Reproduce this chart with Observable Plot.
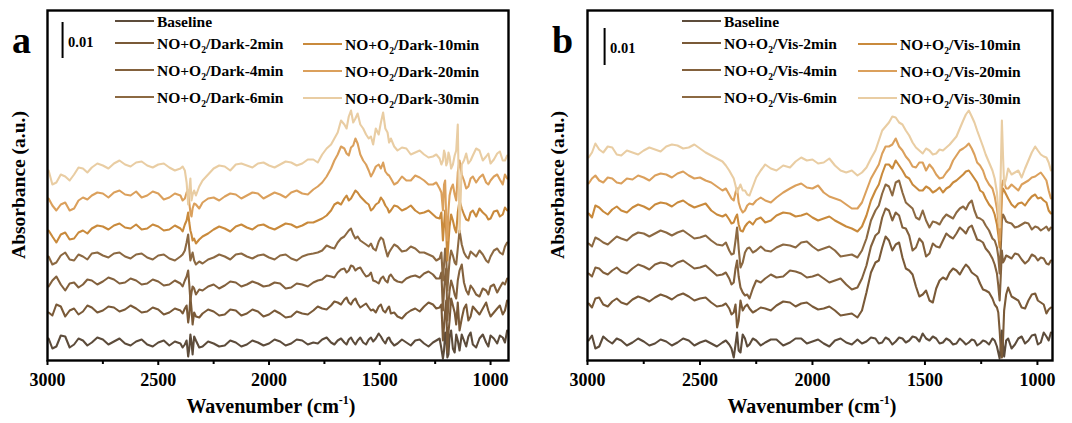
<!DOCTYPE html>
<html><head><meta charset="utf-8">
<script src="https://cdn.jsdelivr.net/npm/d3@7"></script>
<script src="https://cdn.jsdelivr.net/npm/@observablehq/plot@0.6"></script>
<style>
html,body{margin:0;padding:0;background:#fff;}
#wrap{position:relative;width:1072px;height:423px;overflow:hidden;}
#pa,#pb,#ov{position:absolute;top:0;}
#pa{left:0}#pb{left:540px}#ov{left:0;pointer-events:none}
</style></head><body>
<div id="wrap"><div id="pa"></div><div id="pb"></div><svg id="ov" width="1072" height="423"></svg></div>
<script>
// ---------- data (absorbance in arbitrary units; 36 units = 0.01) ----------
const majorTicks = [3000, 2500, 2000, 1500, 1000];
const minorTicks = [2750, 2250, 1750, 1250];
const colors = ["#5d4c3b", "#7a5a38", "#83613d", "#8c6942", "#c98a3c", "#dba05c", "#e9cda3"];
const namesA = ["Baseline","NO+O2/Dark-2min","NO+O2/Dark-4min","NO+O2/Dark-6min","NO+O2/Dark-10min","NO+O2/Dark-20min","NO+O2/Dark-30min"];
const namesB = ["Baseline","NO+O2/Vis-2min","NO+O2/Vis-4min","NO+O2/Vis-6min","NO+O2/Vis-10min","NO+O2/Vis-20min","NO+O2/Vis-30min"];

// panel a: main sampling grid and in-between sampling grid
const wnA = [2995,2960,2920,2880,2840,2800, 2750,2700,2650,2600,2550,2500, 2450,2400,2380,2365,2355,2345,
  2330,2300,2250,2200,2150,2100, 2050,2000,1950,1900,1850,1800, 1760,1720,1690,1660,1640,1620,
  1600,1575,1550,1530,1505,1485, 1465,1450,1420,1380,1340,1300, 1260,1230,1215,1205,1195,1185,
  1170,1155,1140,1120,1100,1080, 1050,1020,1000,970,945,925];
const wnAm = [2978,2940,2900,2860,2820,2775, 2725,2675,2625,2575,2525,2475, 2425,2390,2372,2360,2350,2338,
  2315,2275,2225,2175,2125,2075, 2025,1975,1925,1875,1825,1780, 1740,1705,1675,1650,1630,1610,
  1588,1562,1540,1518,1495,1475, 1458,1435,1400,1360,1320,1280, 1245,1222,1210,1200,1190,1178,
  1162,1148,1130,1110,1090,1065, 1035,1010,985,958,935];
const baseA = [22,14,24,16,20,18, 21,19,17,19,16,18, 15,17,16,4,26,6, 20,14,17,15,18,16, 18,17,19,17,20,18,
  21,18,20,18,21,19, 20,18,21,19,27,20, 22,19,17,18,20,17, 18,22,2,28,3,24, 12,26,10,20,24,16, 22,18,25,17,23,30];
const baseAm = [12,25,13,22,15,23, 16,22,15,21,14,20, 19,13,20,12,18,24, 13,19,14,20,14,20, 15,21,15,21,16,17,
  23,16,22,16,23,16, 23,16,23,22,24,17, 23,15,21,15,21,14, 20,12,10,22,6,30, 8,20,26,14,28,13, 26,14,22,25,18];
const dark2 = [48,56,44,52,49,53, 50,53,51,52,49,51, 48,50,52,38,64,36, 44,47,49,46,50,47, 49,46,47,44,47,50,
  52,55,58,61,58,60, 57,55,53,51,54,50, 52,47,44,47,52,54, 56,53,20,50,8,40, 55,36,30,52,40,54, 46,58,44,52,46,60];
const dark2m = [45,54,50,46,55,48, 54,49,55,48,53,46, 52,47,55,46,52,48, 43,51,45,51,45,51, 44,50,43,49,46,54,
  51,59,56,63,56,62, 53,57,50,48,56,48, 54,48,42,50,49,58, 52,56,34,60,28,62, 48,58,42,56,44,50, 52,50,48,55,50];
const dark4 = [74,84,70,78,76,80, 79,81,78,80,77,79, 76,77,80,90,60,74, 66,70,76,75,78,76, 77,75,77,73,76,78,
  81,84,88,92,90,94, 92,88,85,80,77,84, 78,86,79,82,85,87, 86,82,50,85,40,70, 74,62,90,78,66,72, 64,70,74,68,78,82];
const dark4m = [80,76,77,73,81,76, 83,77,82,76,81,75, 80,74,84,76,68,72, 71,74,72,79,74,79, 74,78,72,77,74,80,
  85,83,91,88,95,90, 93,84,88,79,82,80, 84,81,78,84,83,89, 82,88,70,92,56,80, 66,80,96,70,75,66, 72,66,76,73,76];
const dark6 = [104,98,108,100,104,107, 105,107,104,106,103,105, 102,104,110,126,100,108, 96,97,103,104,106,104,
  105,103,105,102,104,107, 110,113,118,124,130,126, 124,118,114,112,119,121, 104,111,114,110,112,108,
  104,102,80,112,70,100, 105,96,130,108,102,107, 110,100,104,112,106,118];
const dark6m = [96,105,101,106,101,108, 103,108,102,107,101,106, 100,106,118,112,104,100, 99,101,106,101,107,102,
  106,101,106,100,106,108, 115,112,122,127,132,122, 120,116,117,110,123,112, 108,116,109,114,108,106,
  100,108,96,104,86,110, 98,112,116,104,109,104, 106,98,110,108,114];
const dark10 = [130,118,128,122,130,132, 134,135,133,136,132,134, 131,132,136,148,130,120, 117,124,131,132,134,133,
  135,133,134,136,135,138, 142,150,158,162,160,166, 168,161,156,152,158,160, 152,150,154,152,150,148,
  146,142,120,150,100,134, 140,128,160,146,140,150, 152,145,142,150,146,150];
const dark10m = [124,126,121,128,127,135, 131,137,132,131,136,130, 135,129,140,138,126,122, 121,127,134,129,136,131,
  136,131,137,133,138,140, 145,156,156,165,162,170, 164,158,150,156,163,155, 148,155,150,155,147,150,
  143,148,136,128,118,146, 132,148,152,141,148,144, 148,141,149,144,153];
const dark20 = [162,150,158,152,163,165, 167,168,166,169,165,167, 163,165,162,170,148,152, 156,158,163,164,166,165,
  167,165,166,168,167,171, 178,192,206,212,205,215, 217,200,190,188,196,198, 186,182,178,180,185,180,
  176,172,150,180,120,165, 176,160,200,180,174,184, 183,178,180,186,176,182];
const dark20m = [155,156,150,160,161,168, 163,170,165,163,169,161, 167,160,168,158,144,157, 152,162,160,167,162,168,
  162,168,163,170,166,174, 184,200,214,207,213,222, 206,196,184,194,192,189, 185,176,184,180,183,176,
  178,168,176,140,150,172, 166,188,186,172,182,178, 186,176,184,181,186];
const dark30 = [190,178,184,186,192,193, 195,197,196,198,195,196, 193,192,190,156,182,166, 165,180,192,194,196,195,
  197,195,196,198,197,201, 206,216,228,236,244,238, 247,232,222,216,226,248, 228,222,210,212,208,206,
  204,202,200,206,198,204, 196,210,128,200,197,205, 210,204,197,207,200,205];
const dark30m = [176,186,180,193,188,197, 192,200,194,199,193,197, 190,194,178,170,160,170, 174,186,195,190,197,193,
  198,193,199,195,201,198, 212,222,240,232,250,242, 236,226,224,232,238,232, 218,214,213,206,210,203,
  206,196,210,195,208,192, 205,236,196,207,200,212, 200,207,201,209,200];

// panel b
const wnB = [2995,2965,2930,2890,2850,2800, 2750,2700,2650,2600,2550,2500, 2450,2400,2370,2350,2335,2320,
  2300,2280,2250,2210,2160,2100, 2050,2000,1950,1900,1850,1800, 1760,1720,1690,1660,1630,1600,
  1570,1540,1510,1480,1450,1420, 1390,1360,1330,1305,1280,1255, 1230,1200,1180,1168,1158,1148,
  1130,1100,1070,1040,1010,985, 960,940];
const wnBm = [2980,2948,2910,2870,2825,2775, 2725,2675,2625,2575,2525,2475, 2425,2385,2360,2342,2328,2310,
  2290,2265,2230,2185,2130,2075, 2025,1975,1925,1875,1825,1780, 1740,1705,1675,1645,1615,1585,
  1555,1525,1495,1465,1435,1405, 1375,1345,1318,1292,1268,1242, 1215,1190,1174,1163,1153,1139,
  1115,1085,1055,1025,998,972, 950];
const baseB = [20,12,24,17,20,18, 19,17,19,18,20,18, 17,18,16,3,28,8, 22,16,20,18,21,18, 22,19,17,20,18,21,
  19,22,18,21,19,22, 20,23,27,20,22,18, 20,17,19,18,20,17, 19,22,14,2,30,4, 22,16,24,20,26,18, 24,28];
const baseBm = [25,14,20,22,15,22, 15,21,15,22,15,20, 14,20,12,16,10,26, 14,22,15,21,15,22, 17,21,14,22,16,17,
  23,17,23,16,23,18, 24,19,22,24,17,22, 16,22,16,21,15,20, 16,20,8,14,16,20, 12,22,17,25,16,28, 20];
const vis2 = [57,62,56,59,58,61, 62,63,64,65,64,62, 58,55,52,48,33,60, 54,52,50,52,55,58, 57,54,52,50,46,43,
  68,98,113,120,116,103, 90,74,66,60,72,83, 88,90,92,93,86,77, 70,62,53,30,3,50, 73,62,53,60,67,58, 47,53];
const vis2m = [53,63,54,62,56,64, 59,66,61,67,60,63, 54,57,46,56,40,50, 56,48,53,50,59,54, 58,51,54,45,47,50,
  88,100,124,110,118,92, 86,64,70,58,80,81, 92,86,96,88,84,71, 68,56,48,12,20,66, 64,60,52,66,60,56, 51];
const vis4 = [87,93,88,90,89,92, 94,96,97,98,96,93, 90,86,82,78,100,73, 65,62,80,82,83,90, 87,84,82,80,76,73,
  95,125,143,150,148,133, 125,113,118,107,114,120, 124,127,130,133,128,120, 112,102,87,60,110,100,
  104,107,101,100,104,103, 97,100];
const vis4m = [84,92,86,93,87,96, 91,98,94,100,92,95, 85,88,76,92,84,68, 66,72,78,86,84,89, 83,86,78,82,71,82,
  114,128,152,140,145,132, 110,122,104,117,113,127, 122,133,127,135,121,118, 108,96,75,84,98,105,
  102,106,97,106,100,102, 96];
const vis6 = [117,123,118,120,122,125, 127,127,128,128,126,123, 120,115,110,107,133,93, 108,113,110,110,113,115,
  118,114,112,110,105,103, 122,150,167,174,178,168, 155,143,150,133,138,142, 144,148,154,157,150,142,
  135,122,113,87,140,144, 138,133,136,137,134,130, 134,133];
const vis6m = [114,121,116,124,120,128, 124,130,125,130,122,125, 116,118,106,120,112,98, 112,108,114,109,116,113,
  119,110,114,104,106,110, 140,155,176,165,180,158, 152,141,140,139,136,146, 142,152,151,160,143,140,
  130,120,104,112,146,139, 137,134,138,131,133,132, 130];
const vis10 = [147,155,149,151,150,153, 154,156,157,158,156,155, 150,144,141,138,146,130, 134,139,141,138,145,147,
  145,143,142,140,134,129, 145,170,187,196,200,190, 182,173,170,172,170,168, 174,180,186,190,182,170,
  162,152,136,113,165,170, 162,153,158,160,166,163, 158,147];
const vis10m = [143,153,146,154,148,156, 151,158,154,160,153,157, 146,146,137,143,136,129, 137,136,143,140,148,144,
  147,140,144,137,132,134, 160,176,196,192,195,184, 176,170,174,168,173,172, 178,183,189,186,178,168,
  156,146,126,132,172,166, 156,157,155,164,162,160, 150];
const vis20 = [177,185,178,182,177,181, 183,185,186,187,185,183, 178,170,166,160,172,152, 150,157,160,160,163,172,
  177,172,168,162,156,152, 170,190,207,214,222,210, 200,193,198,196,186,183, 192,205,212,217,206,195,
  182,172,152,120,175,178, 172,173,176,180,184,188, 180,162];
const vis20m = [182,180,183,178,182,185, 180,187,183,189,182,180, 174,172,162,168,158,148, 155,156,163,158,168,175,
  173,175,164,160,152,158, 182,196,214,216,214,204, 194,198,190,192,182,188, 200,210,214,212,198,190,
  176,164,140,146,180,172, 176,170,178,183,186,184, 170];
const vis30 = [203,217,208,213,205,208, 210,211,214,215,213,212, 205,199,190,182,168,176, 170,165,183,196,190,193,
  203,201,198,195,188,185, 193,210,230,238,243,236, 225,213,207,210,207,210, 216,224,240,250,238,222,
  206,190,168,133,240,175, 192,188,183,200,214,206, 203,190];
const vis30m = [208,211,214,206,210,206, 213,209,216,212,216,208, 202,195,186,175,172,170, 166,174,190,192,195,199,
  200,197,202,190,190,188, 202,220,234,244,238,230, 218,210,212,206,211,213, 220,232,246,244,230,214,
  198,182,150,190,205,182, 186,190,192,208,210,204, 198];

const seriesA = [[baseA, baseAm], [dark2, dark2m], [dark4, dark4m], [dark6, dark6m], [dark10, dark10m], [dark20, dark20m], [dark30, dark30m]];
const seriesB = [[baseB, baseBm], [vis2, vis2m], [vis4, vis4m], [vis6, vis6m], [vis10, vis10m], [vis20, vis20m], [vis30, vis30m]];
const scaleBarA = [{wn: 2932, lo: 302, hi: 338}];
const scaleBarB = [{wn: 2924, lo: 295, hi: 332}];

// ---------- drawing ----------
const FONT = "'Liberation Serif','Times New Roman',serif";
function panel(wn, wnm, series, xEnd, width, mr, bar) {
  const data = series.flatMap(([vals, mids], k) => {
    const pts = wn.map((w, i) => ({wn: w, a: vals[i]})).concat(wnm.map((w, i) => ({wn: w, a: mids[i]})));
    pts.sort((p, q) => q.wn - p.wn);
    return pts.map(p => ({...p, k, c: colors[k]}));
  });
  return Plot.plot({
    width, height: 423, marginLeft: 47, marginRight: mr, marginTop: 10, marginBottom: 63,
    x: {domain: [3000, xEnd]},
    y: {domain: [0, 350], axis: null},
    style: {fontFamily: FONT, fontWeight: "bold", background: "transparent", color: "#000"},
    marks: [
      Plot.line(data, {x: "wn", y: "a", z: "k", stroke: "c", strokeWidth: 2.1, strokeLinejoin: "round"}),
      Plot.axisX({ticks: majorTicks, tickFormat: d => String(d), tickSize: 5, tickPadding: 8, fontSize: 18, fontWeight: "bold", label: null, strokeWidth: 2}),
      Plot.axisX({ticks: minorTicks, tickSize: 4, tickFormat: () => "", label: null, strokeWidth: 2}),
      Plot.frame({strokeWidth: 2.4, stroke: "#000"}),
      Plot.ruleX(bar, {x: "wn", y1: "lo", y2: "hi", strokeWidth: 2, stroke: "#000"})
    ]
  });
}
document.getElementById("pa").append(panel(wnA, wnAm, seriesA, 919, 540, 32, scaleBarA));
document.getElementById("pb").append(panel(wnB, wnBm, seriesB, 933, 532, 20, scaleBarB));

// ---------- overlay text & legends ----------
const ov = d3.select("#ov").attr("font-family", FONT).attr("font-weight", "bold").attr("fill", "#000");
function labelWithSub(sel, name, size) {
  const parts = name.split("O2");
  sel.append("tspan").text(parts[0] + "O");
  sel.append("tspan").attr("font-size", size * 0.62).attr("dy", 4).text("2");
  sel.append("tspan").attr("dy", -4).text(parts[1]);
}
function overlay(o) {
  ov.append("text").attr("x", o.letterX).attr("y", 53).attr("font-size", 38).text(o.letter);
  ov.append("text").attr("transform", `translate(${o.ylabX},185) rotate(-90)`).attr("text-anchor", "middle")
    .attr("font-size", 19.5).text("Absorbance (a.u.)");
  const xl = ov.append("text").attr("x", o.xlabX).attr("y", 413).attr("text-anchor", "middle").attr("font-size", 20);
  xl.append("tspan").text("Wavenumber (cm");
  xl.append("tspan").attr("font-size", 12).attr("dy", -9).text("-1");
  xl.append("tspan").attr("dy", 9).text(")");
  ov.append("text").attr("x", o.barLabX).attr("y", o.barLabY).attr("font-size", 14.5).text("0.01");
  const rows = [21, 43, 70, 97];
  const slots = [[0,0],[0,1],[0,2],[0,3],[1,1],[1,2],[1,3]];
  o.names.forEach((name, k) => {
    const [col, row] = slots[k];
    const lx = o.cols[col], y = rows[row] + (col ? 1 : 0);
    ov.append("line").attr("x1", lx).attr("x2", lx + 39).attr("y1", y).attr("y2", y)
      .attr("stroke", colors[k]).attr("stroke-width", 2);
    const t = ov.append("text").attr("x", lx + 42).attr("y", y + 5.5).attr("font-size", 15.5);
    if (name.includes("O2")) labelWithSub(t, name, 15.5); else t.text(name);
  });
}
overlay({letter: "a", letterX: 12, ylabX: 25, xlabX: 271, barLabX: 68, barLabY: 47, names: namesA, cols: [115, 303]});
overlay({letter: "b", letterX: 552, ylabX: 564, xlabX: 812, barLabX: 610, barLabY: 53, names: namesB, cols: [682, 858]});
</script></body></html>
